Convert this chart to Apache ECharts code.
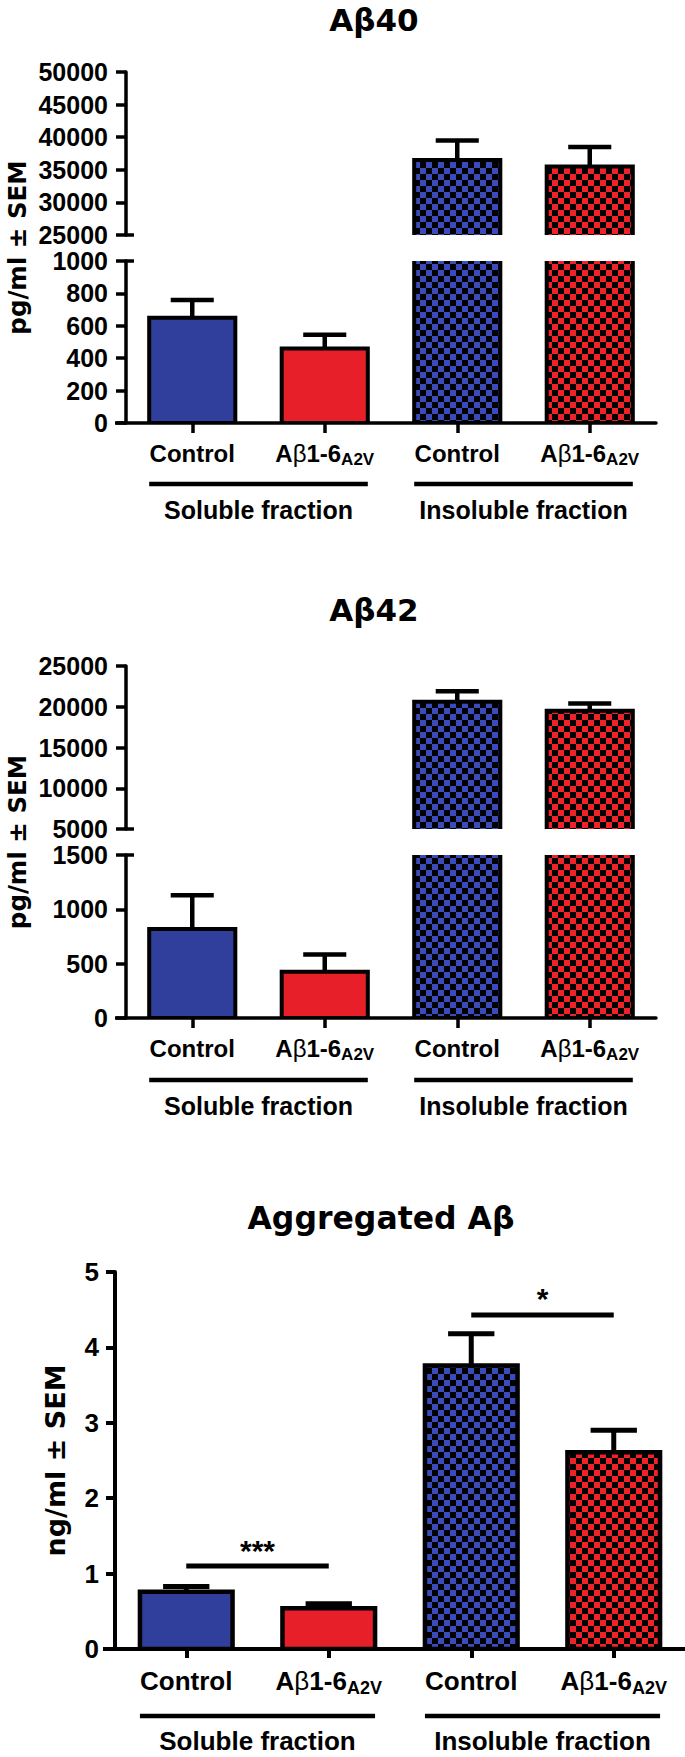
<!DOCTYPE html>
<html><head><meta charset="utf-8">
<script src="https://cdn.jsdelivr.net/npm/echarts@6/dist/echarts.min.js"></script>
<style>html,body{margin:0;padding:0;background:#fff}#c{width:685px;height:1757px}</style>
</head><body><div id="c"></div>
<script>
// ---------- data ----------
const categories = ['Control', 'Aβ1-6A2V', 'Control', 'Aβ1-6A2V'];
const groupLabels = ['Soluble fraction', 'Insoluble fraction'];

const ab40Mean   = [650, 460, 36500, 35500];
const ab40ErrTop = [760, 545, 39500, 38500];
const ab40UpperTicks = [25000, 30000, 35000, 40000, 45000, 50000];
const ab40LowerTicks = [0, 200, 400, 600, 800, 1000];

const ab42Mean   = [820, 425, 20600, 19500];
const ab42ErrTop = [1130, 585, 21900, 20400];
const ab42UpperTicks = [5000, 10000, 15000, 20000, 25000];
const ab42LowerTicks = [0, 500, 1000, 1500];

const aggMean   = [0.76, 0.54, 3.76, 2.61];
const aggErrTop = [0.83, 0.60, 4.18, 2.90];
const aggTicks  = [0, 1, 2, 3, 4, 5];
const aggSigPairs  = [[0, 1, 1.1], [2, 3, 4.43]];
const aggSigLabels = ['***', '*'];

// ---------- style ----------
const FONT = '"Liberation Sans", Arial, sans-serif';
const WIDE = '"DejaVu Sans", Verdana, sans-serif';
const BAR = 0.65;

function checker(color) {
  const c = document.createElement('canvas'); c.width = 12; c.height = 12;
  const g = c.getContext('2d');
  g.fillStyle = '#000'; g.fillRect(0, 0, 12, 12);
  g.fillStyle = color; g.fillRect(0, 0, 6, 6); g.fillRect(6, 6, 6, 6);
  return { image: c.toDataURL(), repeat: 'repeat', imageWidth: 12, imageHeight: 12 };
}
const fills = ['#2f3f9b', '#e61f28', checker('#3a4cbc'), checker('#ee2229')];

const panels = [
  { title: 'Aβ40', titleX: 374, titleY: 19, titleFs: 31, yName: 'pg/ml ± SEM', yNameX: 17, yNameFs: 24.5,
    mean: ab40Mean, errTop: ab40ErrTop, left: 126, width: 530,
    segs: [{ ticks: ab40UpperTicks, top: 72, height: 163 }, { ticks: ab40LowerTicks, top: 261, height: 162 }],
    fs: 25, catFs: 24, subFs: 17, groupFs: 25, tickLen: 10, labelMargin: 18, catMargin: 15,
    lw: 4.5, border: 4, axW: 3.5, groupLineOff: 61, groupLabelOff: 87, axisExt: 11 },
  { title: 'Aβ42', titleX: 374, titleY: 609, titleFs: 31, yName: 'pg/ml ± SEM', yNameX: 17, yNameFs: 24.5,
    mean: ab42Mean, errTop: ab42ErrTop, left: 126, width: 530,
    segs: [{ ticks: ab42UpperTicks, top: 666, height: 163 }, { ticks: ab42LowerTicks, top: 855, height: 163 }],
    fs: 25, catFs: 24, subFs: 17, groupFs: 25, tickLen: 10, labelMargin: 18, catMargin: 15,
    lw: 4.5, border: 4, axW: 3.5, groupLineOff: 62, groupLabelOff: 88, axisExt: 11 },
  { title: 'Aggregated Aβ', titleX: 381, titleY: 1217, titleFs: 31.5, yName: 'ng/ml ± SEM', yNameX: 55, yNameFs: 27,
    mean: aggMean, errTop: aggErrTop, left: 115, width: 570,
    segs: [{ ticks: aggTicks, top: 1272, height: 377 }],
    fs: 26, catFs: 26, subFs: 18, groupFs: 26, tickLen: 9, labelMargin: 16, catMargin: 16,
    lw: 5, border: 4.5, axW: 4, groupLineOff: 67, groupLabelOff: 92, axisExt: 12,
    sig: { pairs: aggSigPairs, labels: aggSigLabels } }
];

function catFmt(v) {
  return v.endsWith('A2V') ? '{m|A}{b|β}{m|1-6}{s|A2V}' : '{m|' + v + '}';
}
function richFor(p) {
  return {
    m: { fontSize: p.catFs, fontWeight: 'bold', fontFamily: FONT, color: '#000', lineHeight: p.catFs + 6 },
    b: { fontSize: p.catFs, fontWeight: 'normal', fontFamily: FONT, color: '#000', lineHeight: p.catFs + 6 },
    s: { fontSize: p.subFs, fontWeight: 'bold', fontFamily: FONT, color: '#000', lineHeight: p.subFs, verticalAlign: 'bottom' }
  };
}
function makeRender(p) {
  return function (params, api) {
    const i = api.value(0);
    const top = api.coord([i, api.value(1)]);
    const base = api.coord([i, 0]);
    const et = api.coord([i, api.value(2)]);
    const bw = api.size([1, 0])[0] * BAR;
    const cw = bw * 0.5;
    return { type: 'group', children: [
      { type: 'rect', shape: { x: top[0] - bw / 2, y: top[1], width: bw, height: base[1] - top[1] },
        style: { fill: fills[i], stroke: '#000', lineWidth: p.border } },
      { type: 'line', shape: { x1: top[0], y1: top[1], x2: et[0], y2: et[1] }, style: { stroke: '#000', lineWidth: p.lw } },
      { type: 'line', shape: { x1: et[0] - cw / 2, y1: et[1], x2: et[0] + cw / 2, y2: et[1] }, style: { stroke: '#000', lineWidth: p.lw } }
    ] };
  };
}

const grid = [], xAxis = [], yAxis = [], series = [];
panels.forEach(p => {
  p.gridIdx = [];
  p.segs.forEach((s, si) => {
    const gi = grid.length;
    const isBottom = si === p.segs.length - 1;
    grid.push({ left: p.left, top: s.top, width: p.width, height: s.height });
    xAxis.push({ type: 'category', gridIndex: gi, data: categories,
      axisLine: { show: isBottom, lineStyle: { color: '#000', width: p.axW } },
      axisTick: { show: isBottom, alignWithLabel: true, length: p.tickLen, lineStyle: { color: '#000', width: p.axW } },
      axisLabel: { show: isBottom, interval: 0, margin: p.catMargin, formatter: catFmt, rich: richFor(p) },
      splitLine: { show: false } });
    yAxis.push({ type: 'value', gridIndex: gi, min: s.ticks[0], max: s.ticks[s.ticks.length - 1],
      interval: s.ticks[1] - s.ticks[0],
      axisLine: { show: true, lineStyle: { color: '#000', width: p.axW } },
      axisTick: { show: true, length: p.tickLen, lineStyle: { color: '#000', width: p.axW } },
      axisLabel: { margin: p.labelMargin, color: '#000', fontSize: p.fs, fontWeight: 'bold', fontFamily: FONT,
        formatter: v => String(v) },
      splitLine: { show: false } });
    series.push({ type: 'custom', xAxisIndex: gi, yAxisIndex: gi, clip: true,
      data: p.mean.map((v, i) => [i, v, p.errTop[i]]), renderItem: makeRender(p) });
    if (p.sig && isBottom) {
      const sig = p.sig;
      series.push({ type: 'custom', xAxisIndex: gi, yAxisIndex: gi, clip: false,
        data: sig.pairs,
        renderItem: function (params, api) {
          const a = api.coord([api.value(0), api.value(2)]);
          const b = api.coord([api.value(1), api.value(2)]);
          return { type: 'group', children: [
            { type: 'line', shape: { x1: a[0], y1: a[1], x2: b[0], y2: b[1] }, style: { stroke: '#000', lineWidth: 5 } },
            { type: 'text', x: (a[0] + b[0]) / 2, y: a[1] - 16,
              style: { text: sig.labels[params.dataIndex], fill: '#000', font: 'bold 30px ' + FONT,
                align: 'center', verticalAlign: 'middle', textAlign: 'center', textVerticalAlign: 'middle' } }
          ] };
        } });
    }
    p.gridIdx.push(gi);
  });
});

const chart = echarts.init(document.getElementById('c'), null, { renderer: 'svg', width: 685, height: 1757 });
chart.setOption({ animation: false, grid, xAxis, yAxis, series });

// ---------- decorations positioned through the axes ----------
const graphic = [];
function txt(x, y, text, font, rot) {
  return { type: 'text', x, y, rotation: rot || 0,
    style: { text, fill: '#000', font, align: 'center', verticalAlign: 'middle', textAlign: 'center', textVerticalAlign: 'middle' } };
}
function ln(x1, y1, x2, y2, w) {
  return { type: 'line', shape: { x1, y1, x2, y2 }, style: { stroke: '#000', lineWidth: w } };
}
panels.forEach(p => {
  const gTop = p.gridIdx[0], gBot = p.gridIdx[p.gridIdx.length - 1];
  const firstSeg = p.segs[0], lastSeg = p.segs[p.segs.length - 1];
  const topY = chart.convertToPixel({ yAxisIndex: gTop }, firstSeg.ticks[firstSeg.ticks.length - 1]);
  const botY = chart.convertToPixel({ yAxisIndex: gBot }, 0);
  const axisX = chart.convertToPixel({ xAxisIndex: gBot }, 0) - (p.width / categories.length) / 2;
  graphic.push(txt(p.titleX, p.titleY + 1, p.title, 'bold ' + p.titleFs + 'px ' + WIDE));
  graphic.push(txt(p.yNameX, (topY + botY) / 2, p.yName, 'bold ' + p.yNameFs + 'px ' + WIDE, Math.PI / 2));
  graphic.push(ln(axisX - p.axisExt, botY, axisX, botY, p.axW));
  if (p.segs.length > 1) {
    const yBreakUp = chart.convertToPixel({ yAxisIndex: gTop }, firstSeg.ticks[0]);
    const yBreakLow = chart.convertToPixel({ yAxisIndex: gBot }, lastSeg.ticks[lastSeg.ticks.length - 1]);
    graphic.push(ln(axisX, yBreakUp, axisX + 8, yBreakUp, p.axW));
    graphic.push(ln(axisX, yBreakLow, axisX + 8, yBreakLow, p.axW));
  }
  const band = p.width / categories.length, bw = band * BAR;
  groupLabels.forEach((gl, k) => {
    const c0 = chart.convertToPixel({ xAxisIndex: gBot }, 2 * k);
    const c1 = chart.convertToPixel({ xAxisIndex: gBot }, 2 * k + 1);
    graphic.push(ln(c0 - bw / 2, botY + p.groupLineOff, c1 + bw / 2, botY + p.groupLineOff, 4.5));
    graphic.push(txt((c0 + c1) / 2, botY + p.groupLabelOff, gl, 'bold ' + p.groupFs + 'px ' + FONT));
  });
});
chart.setOption({ graphic });
</script></body></html>
